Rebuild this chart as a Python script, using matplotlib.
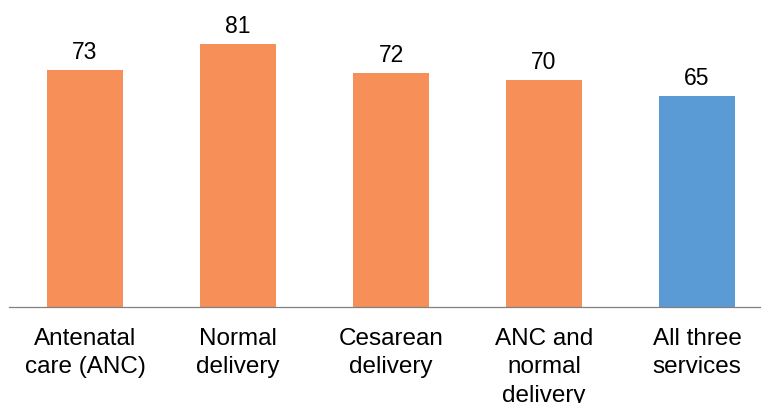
import matplotlib.pyplot as plt

plt.rcParams['font.family'] = ['Liberation Sans', 'DejaVu Sans']

# Data
categories = ["Antenatal\ncare (ANC)", "Normal\ndelivery", "Cesarean\ndelivery",
              "ANC and\nnormal\ndelivery", "All three\nservices"]
values = [73, 81, 72, 70, 65]
colors = ["#F79058", "#F79058", "#F79058", "#F79058", "#5B9BD5"]

fig = plt.figure(figsize=(7.61, 4.03), dpi=100)
ax = fig.add_axes([8.5 / 761, 96 / 403, 765 / 761, 292.5 / 403])

x = range(len(values))
bars = ax.bar(x, values, width=0.5, color=colors)
for rect, v in zip(bars, values):
    ax.annotate(str(v), (rect.get_x() + rect.get_width() / 2, v),
                xytext=(0, 4), textcoords="offset points",
                ha="center", va="bottom", fontsize=16.5)

ax.set_xlim(-0.5, len(values) - 0.5)
ax.set_ylim(0, 90)
ax.set_xticks(list(x))
ax.set_xticklabels(categories, fontsize=17.5, linespacing=1.38)
ax.tick_params(axis="x", length=0, pad=15)
ax.set_yticks([])
for side in ["left", "right", "top"]:
    ax.spines[side].set_visible(False)
ax.spines["bottom"].set_color("#808080")
ax.spines["bottom"].set_linewidth(0.9)

fig.savefig("out.png", dpi=100)
